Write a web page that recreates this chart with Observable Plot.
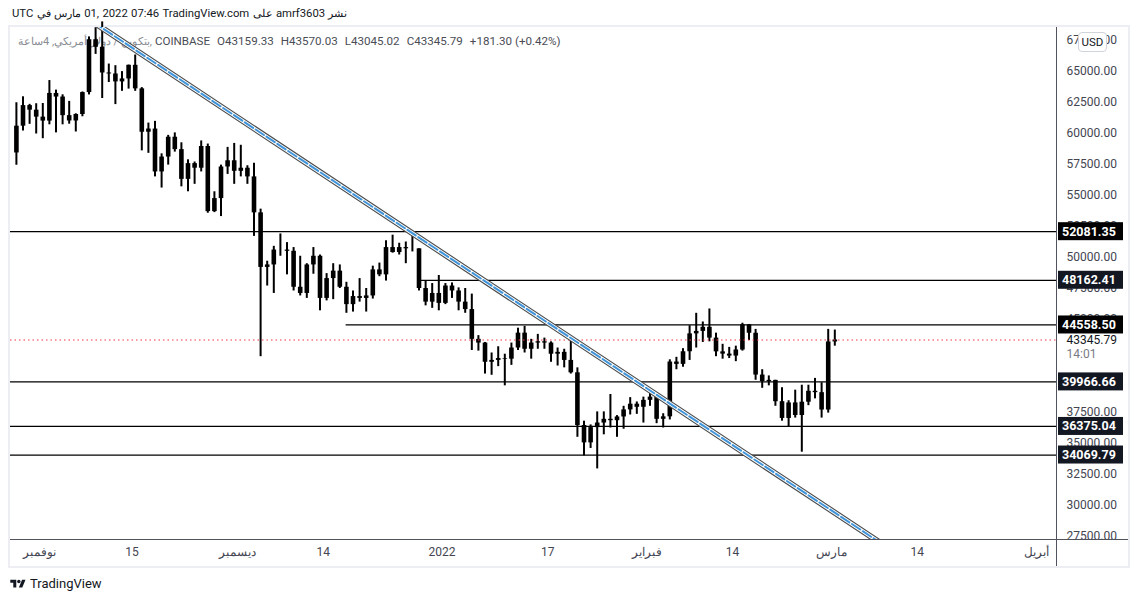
<!DOCTYPE html>
<html><head><meta charset="utf-8">
<script src="https://cdn.jsdelivr.net/npm/d3@7"></script>
<script src="https://cdn.jsdelivr.net/npm/@observablehq/plot@0.6"></script>
<style>
html,body{margin:0;padding:0;background:#fff;}
body{position:relative;width:1137px;height:602px;overflow:hidden;font-family:Roboto,"Noto Sans",sans-serif;}
.abs{position:absolute;}
#top{left:12px;top:6px;font-size:11.3px;color:#131722;white-space:nowrap;line-height:16px;}
#top span{display:inline-block;margin-right:3.3px;}
#top .ar{font-size:10.8px;}
#legend{left:18px;top:33px;font-size:11.6px;white-space:nowrap;line-height:16px;color:#4a4d55;}
#legend .a{color:#8a8d95;font-size:11px;}
#legend .v{margin-left:7px;}
#panel{left:8px;top:25px;width:1118px;height:539px;border:2px solid #eceef3;}
#chart{left:10px;top:27px;}
#vsep{left:1056px;top:27px;width:1.3px;height:539px;background:#50535e;}
#hsep{left:10px;top:538.5px;width:1118px;height:1.3px;background:#50535e;}
#usd{left:1078px;top:32px;width:27px;height:18px;border:1px solid #d1d4dc;border-radius:4px;background:#fff;font-size:11.5px;line-height:18px;text-align:center;color:#131722;}
#footer{left:10px;top:575px;font-size:13px;color:#131722;line-height:18px;white-space:nowrap;}
#footer svg{vertical-align:-2px;margin-right:4px;}
</style></head>
<body>
<div id="panel" class="abs"></div>
<div id="top" class="abs"><span>UTC</span><span class="ar">في</span><span class="ar">مارس</span><span>01,</span><span>2022</span><span>07:46</span><span>TradingView.com</span><span class="ar">على</span><span>amrf3603</span><span class="ar">نشر</span></div>
<div id="legend" class="abs"><span class="a">بتكوين / دولار أمريكي, 4ساعة,</span> <span>COINBASE</span><span class="v">O43159.33</span><span class="v">H43570.03</span><span class="v">L43045.02</span><span class="v">C43345.79</span><span class="v">+181.30 (+0.42%)</span></div>
<div id="chart" class="abs"></div>
<div id="vsep" class="abs"></div>
<div id="hsep" class="abs"></div>
<div id="usd" class="abs">USD</div>
<div id="footer" class="abs"><svg width="16" height="12" viewBox="0 0 36 28"><path d="M14 22H7V11H0V4h14v18zM28 22h-8l7.5-18h8L28 22z" fill="#131722"/><circle cx="20" cy="8" r="4" fill="#131722"/></svg>TradingView</div>
<script>
// ---- data (daily OHLC, BTC/USD, Coinbase) ----
const dates = [
"2021-10-28","2021-10-29","2021-10-30","2021-10-31",
"2021-11-01","2021-11-02","2021-11-03","2021-11-04","2021-11-05","2021-11-06","2021-11-07","2021-11-08","2021-11-09","2021-11-10",
"2021-11-11","2021-11-12","2021-11-13","2021-11-14","2021-11-15","2021-11-16","2021-11-17","2021-11-18","2021-11-19","2021-11-20",
"2021-11-21","2021-11-22","2021-11-23","2021-11-24","2021-11-25","2021-11-26","2021-11-27","2021-11-28","2021-11-29","2021-11-30",
"2021-12-01","2021-12-02","2021-12-03","2021-12-04","2021-12-05","2021-12-06","2021-12-07","2021-12-08","2021-12-09","2021-12-10",
"2021-12-11","2021-12-12","2021-12-13","2021-12-14","2021-12-15","2021-12-16","2021-12-17","2021-12-18","2021-12-19","2021-12-20",
"2021-12-21","2021-12-22","2021-12-23","2021-12-24","2021-12-25","2021-12-26","2021-12-27","2021-12-28","2021-12-29","2021-12-30","2021-12-31",
"2022-01-01","2022-01-02","2022-01-03","2022-01-04","2022-01-05","2022-01-06","2022-01-07","2022-01-08","2022-01-09","2022-01-10",
"2022-01-11","2022-01-12","2022-01-13","2022-01-14","2022-01-15","2022-01-16","2022-01-17","2022-01-18","2022-01-19","2022-01-20",
"2022-01-21","2022-01-22","2022-01-23","2022-01-24","2022-01-25","2022-01-26","2022-01-27","2022-01-28","2022-01-29","2022-01-30","2022-01-31",
"2022-02-01","2022-02-02","2022-02-03","2022-02-04","2022-02-05","2022-02-06","2022-02-07","2022-02-08","2022-02-09","2022-02-10",
"2022-02-11","2022-02-12","2022-02-13","2022-02-14","2022-02-15","2022-02-16","2022-02-17","2022-02-18","2022-02-19","2022-02-20",
"2022-02-21","2022-02-22","2022-02-23","2022-02-24","2022-02-25","2022-02-26","2022-02-27","2022-02-28",
"2022-03-01"];
const opens = [
58430,60590,62250,61880,
61320,61000,63230,62940,61440,61010,61530,63300,67560,66950,64880,64800,64160,64400,65500,63600,60100,60360,56900,58100,59700,58700,56300,57570,57200,58950,53700,54750,57300,57800,
56950,57200,56500,53600,49200,49400,50600,50600,50500,47600,47100,49400,50100,46700,48300,48900,47600,46200,46850,46700,46900,49000,48600,50800,50400,50800,50700,50700,47500,46400,47100,
46300,47700,47300,46400,45800,43400,43100,41550,41700,41850,41800,42700,43900,42600,43100,43200,43100,42200,42350,41700,40700,36450,35050,36280,36650,36950,36840,37140,37710,38170,37920,
38480,38740,36950,37150,41570,41380,42400,43840,44040,44370,43500,42390,42210,42050,42540,44570,43890,40520,40000,40090,38370,37020,38270,37260,38330,39210,39100,37700,
43190];
const highs = [
62480,62960,62350,62400,
62420,64270,63500,63120,62590,61590,63350,67790,68530,69000,65600,65470,64990,65520,66330,63700,60840,60980,58360,59850,60050,59250,57880,57700,59400,59150,55300,57450,58880,59200,
59050,57400,57600,53900,49700,50900,51900,51200,50800,50100,49500,50800,50200,48700,49500,49400,48000,47300,48300,47500,49300,49550,51350,51800,51150,51250,52050,50700,48100,47900,48550,
47900,47950,47550,47500,47050,43700,43150,42300,42800,42200,43100,44300,44450,43400,43800,43500,43200,42700,42600,43500,41100,36800,36500,37550,37550,38950,37250,38000,38700,38350,38740,
39250,38850,37400,41750,41950,42650,44500,45500,44800,45850,43900,43000,42750,42850,44700,44600,44200,40950,40450,40100,39500,38450,39300,39700,39700,40250,39900,44200,
44150];
const lows = [
57440,60200,60740,59960,
59580,60700,60050,60700,60750,60120,61350,63110,66380,62820,64110,62330,63400,63580,63400,58600,58400,56500,55600,57450,58500,55700,55300,55900,56900,53570,53620,53300,56700,55900,
56500,55900,51700,42000,47700,47100,50100,48600,47300,46900,46700,48650,45700,46500,46600,47500,45500,45600,46400,45600,46650,48450,48100,50350,50200,49500,50450,47300,46100,45900,45700,
46200,46700,45700,45500,42500,42450,40600,40500,41200,39650,41300,42500,42300,41800,42600,42600,41550,41250,41100,40600,35500,34000,34600,32950,35700,36250,35500,36150,37300,37350,36650,
38000,36600,36250,36900,40950,41150,41700,42700,43150,43200,42000,41800,41850,41600,42450,43300,40100,39450,39650,38000,36800,36350,37050,34300,38050,38600,37050,37450,
42850];
const closes = [
60590,62250,61880,61320,
61000,63230,62940,61440,61010,61530,63300,67560,66950,64880,64800,64160,64400,65500,63600,60100,60360,56900,58100,59700,58700,56300,57570,57200,58950,53700,54750,57300,57800,56950,
57200,56500,53600,49200,49400,50600,50600,50500,47600,47100,49400,50100,46700,48300,48900,47600,46200,46850,46700,46900,49000,48600,50800,50400,50800,50700,50700,47500,46400,47100,46300,
47700,47300,46400,45800,43400,43100,41550,41700,41850,41800,42700,43900,42600,43100,43200,43100,42200,42350,41700,40700,36450,35050,36280,36650,36950,36840,37140,37710,38170,37920,38480,
38740,36950,37150,41570,41380,42400,43840,44040,44370,43500,42390,42210,42050,42540,44570,43890,40520,40000,40090,38370,37020,38270,37260,38330,39210,39100,37700,43190,
43345.79];

// horizontal levels
const levelPrices = [52081.35, 48162.41, 44558.50, 39966.66, 36375.04, 34069.79];
const levelStarts = [null, "2021-12-28T10:00:00Z", "2021-12-17T11:00:00Z", null, null, null];
const levelBoxColors = ["#000000", "#131722", "#000000", "#131722", "#131722", "#131722"];
const lastPrice = 43345.79;
const countdown = "14:01";

// trend line anchors
const trendDates = ["2021-11-09T02:30:00Z", "2022-03-11T05:00:00Z"];
const trendPrices = [69000, 26000];

// axes (42500 is hidden behind the last-price label in the reference)
const priceTicks = [27500,30000,32500,35000,37500,40000,45000,47500,50000,52500,55000,57500,60000,62500,65000,67500];
const timeTicks = ["2021-11-01","2021-11-15","2021-12-01","2021-12-14","2022-01-01","2022-01-17","2022-02-01","2022-02-14","2022-03-01","2022-03-14","2022-04-01"];
const timeLabels = ["نوفمبر","15","ديسمبر","14","2022","17","فبراير","14","مارس","14","أبريل"];

const xDomain = [new Date("2021-10-27T14:33:00Z"), new Date("2022-04-04T05:45:00Z")];
const yDomain = [27258, 68548];

// ---- build ----
const data = dates.map((d, i) => ({date: new Date(d + "T12:00:00Z"), open: opens[i], high: highs[i], low: lows[i], close: closes[i]}));
const levels = levelPrices.map((p, i) => ({price: p, start: levelStarts[i] ? new Date(levelStarts[i]) : xDomain[0], end: xDomain[1], box: levelBoxColors[i]}));
const trend = trendDates.map((d, i) => ({date: new Date(d), price: trendPrices[i]}));
const tickDates = timeTicks.map(d => new Date(d + "T00:00:00Z"));

const chart = Plot.plot({
  width: 1118, height: 539,
  marginLeft: 0, marginRight: 71, marginTop: 0, marginBottom: 27,
  style: {fontFamily: "Roboto, 'Noto Sans', sans-serif", fontSize: "12px", color: "#434651", background: "transparent", overflow: "visible"},
  x: {type: "utc", domain: xDomain, ticks: tickDates, tickFormat: d => timeLabels[tickDates.findIndex(t => +t === +d)], tickSize: 0, tickPadding: 8, label: null},
  y: {domain: yDomain, axis: "right", ticks: priceTicks, tickFormat: d => d.toFixed(2), tickSize: 0, tickPadding: 9, label: null},
  marks: [
    Plot.ruleX(data, {x: "date", y1: "low", y2: "high", stroke: "#000", strokeWidth: 2}),
    Plot.ruleX(data, {x: "date", y1: "open", y2: "close", stroke: "#000", strokeWidth: 4.6}),
    Plot.ruleY([lastPrice], {y: d => d, stroke: "#f23645", strokeWidth: 1, strokeDasharray: "1.5,3"}),
    Plot.ruleY(levels, {y: "price", x1: "start", x2: "end", stroke: "#000", strokeWidth: 1.3}),
    Plot.line(trend, {x: "date", y: "price", stroke: "#4a4a4a", strokeWidth: 6, clip: true}),
    Plot.line(trend, {x: "date", y: "price", stroke: "#ffffff", strokeWidth: 3.8, clip: true}),
    Plot.line(trend, {x: "date", y: "price", stroke: "#3f95dc", strokeWidth: 2, strokeDasharray: "10,3", clip: true}),
    Plot.text([lastPrice], {y: d => d, frameAnchor: "right", dx: 9, textAnchor: "start", text: d => d.toFixed(2), fill: "#131722", fontSize: 12}),
    Plot.text([lastPrice], {y: d => d, frameAnchor: "right", dx: 9, dy: 14, textAnchor: "start", text: () => countdown, fill: "#787b86", fontSize: 12})
  ]
});

const ys = chart.scale("y");
const g = d3.select(chart).append("g").attr("text-anchor", "start");
levels.forEach(l => {
  const y = ys.apply(l.price);
  g.append("rect").attr("x", 1048).attr("y", y - 9).attr("width", 65).attr("height", 18).attr("fill", l.box);
  g.append("text").attr("x", 1052).attr("y", y).attr("dy", "0.35em").attr("fill", "#fff")
    .attr("text-anchor", "start").attr("font-weight", "bold").attr("font-size", "12.5px").text(l.price.toFixed(2));
});

document.getElementById("chart").appendChild(chart);
</script>
</body></html>
